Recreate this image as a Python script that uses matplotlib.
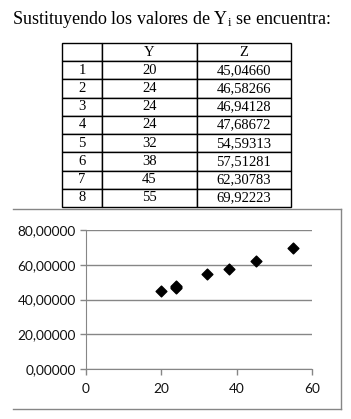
import matplotlib.pyplot as plt
from matplotlib.lines import Line2D

plt.rcParams['mathtext.fontset'] = 'custom'
plt.rcParams['mathtext.rm'] = 'Liberation Serif'
plt.rcParams['mathtext.it'] = 'Liberation Serif'

rows = ['1', '2', '3', '4', '5', '6', '7', '8']
y_vals = [20, 24, 24, 24, 32, 38, 45, 55]
z_vals = [45.04660, 46.58266, 46.94128, 47.68672, 54.59313, 57.51281, 62.30783, 69.92223]
col_labels = ['', 'Y', 'Z']

W, H = 351, 419
fig = plt.figure(figsize=(W / 100, H / 100), dpi=100)

# heading
fig.text(12 / W, 1 - 20 / H, r'Sustituyendo los valores de Y$_{\mathrm{i}}$ se encuentra:',
         family='Liberation Serif', fontsize=13, va='center', ha='left')

# table
tax = fig.add_axes([62 / W, 1 - 207 / H, 229 / W, 164 / H])
tax.axis('off')
cells = [[r, str(y), f'{z:.5f}'.replace('.', ',')] for r, y, z in zip(rows, y_vals, z_vals)]
tbl = tax.table(cellText=[col_labels] + cells, colWidths=[40, 95, 94],
                bbox=[0, 0, 1, 1], cellLoc='center')
tbl.auto_set_font_size(False)
for (r, c), cell in tbl.get_celld().items():
    cell.set_linewidth(1.0)
    cell.set_edgecolor('black')
    cell.get_text().set_fontfamily('Liberation Serif')
    cell.get_text().set_fontsize(10.5)

# chart frame (top, right, bottom)
fc = '#868686'
fig.add_artist(Line2D([13 / W, 341 / W], [1 - 209 / H, 1 - 209 / H], color=fc, lw=1))
fig.add_artist(Line2D([341 / W, 341 / W], [1 - 209 / H, 1 - 409 / H], color=fc, lw=1))
fig.add_artist(Line2D([13 / W, 341 / W], [1 - 409 / H, 1 - 409 / H], color=fc, lw=1))

ax = fig.add_axes([86 / W, 1 - 369 / H, 226 / W, 139 / H])
ax.scatter(y_vals, z_vals, marker='D', s=30, color='black', zorder=3)
ax.set_xlim(0, 60)
ax.set_ylim(0, 80)
ax.set_xticks([0, 20, 40, 60])
ax.set_yticks([0, 20, 40, 60, 80])
ax.set_yticklabels([f'{v:.5f}'.replace('.', ',') for v in [0, 20, 40, 60, 80]])
ax.grid(axis='y', color=fc, lw=1)
ax.set_axisbelow(True)
for s in ['top', 'right']:
    ax.spines[s].set_visible(False)
for s in ['left', 'bottom']:
    ax.spines[s].set_color(fc)
ax.tick_params(colors=fc, labelcolor='#111111', length=4, width=1, labelsize=9.8)
for lab in ax.get_xticklabels() + ax.get_yticklabels():
    lab.set_fontfamily('Lato')
ax.tick_params(axis='x', pad=6)

fig.savefig('out.png', dpi=100)
